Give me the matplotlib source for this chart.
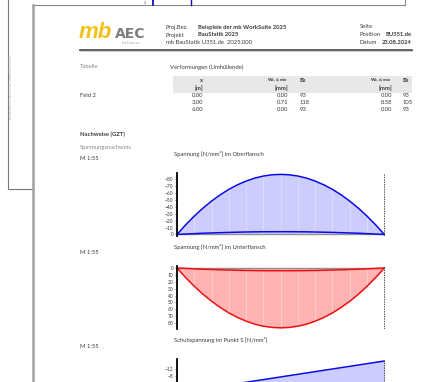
import numpy as np
import matplotlib
matplotlib.use('Agg')
import matplotlib.pyplot as plt

plt.rcParams['font.family'] = ['Lato', 'DejaVu Sans']
plt.rcParams['mathtext.fontset'] = 'custom'
plt.rcParams['mathtext.rm'] = 'Lato'
plt.rcParams['mathtext.it'] = 'Lato:italic'
plt.rcParams['mathtext.bf'] = 'Lato:bold'

# tabelle verformungen
tab_x = [0.00, 3.00, 6.00]
tab_wmin = [0.00, 0.71, 0.00]
tab_ek_min = [93, 118, 93]
tab_wmax = [0.00, 8.58, 0.00]
tab_ek_max = [93, 105, 93]

# stationen [m]
stat = [0.0, 0.25, 0.5, 0.75, 1.0, 1.25, 1.5, 1.75, 2.0, 2.25, 2.5, 2.75, 3.0,
        3.25, 3.5, 3.75, 4.0, 4.25, 4.5, 4.75, 5.0, 5.25, 5.5, 5.75, 6.0]
# Spannung im Oberflansch [N/mm2]
ober_a = [0, -13.9, -26.6, -38.1, -48.3, -57.4, -65.3, -71.9, -77.3, -81.6, -84.6, -86.4, -87.0,
          -86.4, -84.6, -81.6, -77.3, -71.9, -65.3, -57.4, -48.3, -38.1, -26.6, -13.9, 0]
ober_b = [0, -0.6, -1.2, -1.8, -2.2, -2.6, -3.0, -3.3, -3.6, -3.8, -3.9, -4.0, -4.0,
          -4.0, -3.9, -3.8, -3.6, -3.3, -3.0, -2.6, -2.2, -1.8, -1.2, -0.6, 0]
# Spannung im Unterflansch [N/mm2]
unter_a = [0, 13.9, 26.6, 38.1, 48.3, 57.4, 65.3, 71.9, 77.3, 81.6, 84.6, 86.4, 87.0,
           86.4, 84.6, 81.6, 77.3, 71.9, 65.3, 57.4, 48.3, 38.1, 26.6, 13.9, 0]
unter_b = [0, 0.6, 1.2, 1.8, 2.2, 2.6, 3.0, 3.3, 3.6, 3.8, 3.9, 4.0, 4.0,
           4.0, 3.9, 3.8, 3.6, 3.3, 3.0, 2.6, 2.2, 1.8, 1.2, 0.6, 0]
# Schubspannung im Punkt S [N/mm2]
schub_x = [0.0, 6.0]
schub = [1.2, -16.2]

W, H = 428, 382
fig = plt.figure(figsize=(W / 100, H / 100), dpi=100)
page = fig.add_axes([0, 0, 1, 1])
page.set_xlim(0, W)
page.set_ylim(H, 0)
page.axis('off')

def px_axes(x0, y0, x1, y1):
    return fig.add_axes([x0 / W, 1 - y1 / H, (x1 - x0) / W, (y1 - y0) / H])

dark = '#3a3a3a'
grau = '#8a8a8a'
fs = 4.2

# seiten-rahmen
page.plot([8, 8, 33], [0, 189, 189], color='#777777', lw=0.8)
page.plot([33, 405], [5, 5], color='#888888', lw=0.8)
page.plot([405, 405], [0, 5], color='#888888', lw=0.8)
page.plot([33, 33], [5, H], color='#a0a0a0', lw=1.8)
page.plot([153, 153], [0, 5], color='#1010c0', lw=1.3)
page.plot([191, 191], [0, 5], color='#1010c0', lw=1.0)
page.text(145, 2.5, '3', fontsize=2.5, color=dark, ha='center', va='center')
page.text(11, 87, 'mb BauStatik U351.de 2025.000 - Lizenz 000000-00000', fontsize=1.8,
          color='#aaaaaa', rotation=90, ha='center', va='center')

# logo
page.text(79, 38.5, 'mb', fontsize=16, fontweight='bold', fontstyle='italic', color='#f2c21b',
          family='Liberation Sans', ha='left', va='baseline')
page.text(114.5, 38.5, 'AEC', fontsize=10, fontweight='bold', color='#7d7d7d',
          family='DejaVu Sans', ha='left', va='baseline')
page.text(131, 43, 'S o f t w a r e', fontsize=2.2, color='#888888', ha='center', va='center')

# kopf
page.text(166, 27, 'Proj.Bez.', fontsize=fs, color=dark, va='center')
page.text(198, 27, 'Beispiele der mb WorkSuite 2025', fontsize=fs, color=dark,
          fontweight='bold', va='center')
page.text(166, 35, 'Projekt', fontsize=fs, color=dark, va='center')
page.text(198, 35, 'BauStatik 2025', fontsize=fs, color=dark, fontweight='bold', va='center')
page.text(166, 43, 'mb BauStatik U351.de  2025.000', fontsize=fs, color=dark, va='center')
page.text(360, 27, 'Seite', fontsize=fs, color=dark, va='center')
page.text(360, 35, 'Position', fontsize=fs, color=dark, va='center')
page.text(412, 35, 'BU351.de', fontsize=fs, color=dark, fontweight='bold', va='center', ha='right')
page.text(360, 43, 'Datum', fontsize=fs, color=dark, va='center')
page.text(412, 43, '23.08.2024', fontsize=fs, color=dark, fontweight='bold', va='center', ha='right')
page.plot([80, 412], [50, 50], color='#555555', lw=1.3)
page.plot([80, 412], [51.3, 51.3], color='#bbbbbb', lw=0.5)

# tabelle
page.text(80, 67, 'Tabelle', fontsize=fs, color=grau, va='center')
page.text(170, 67, 'Verformungen (Umhüllende)', fontsize=fs, color=dark, va='center')
page.fill_between([173, 412], 76, 92.5, color='#e8e8e8', lw=0)
page.text(203, 80.5, 'x', fontsize=fs, color=dark, ha='right', va='center', fontweight='bold')
page.text(203, 88, '[m]', fontsize=fs, color=dark, ha='right', va='center', fontweight='bold')
page.text(288, 80.5, r'w$_{\mathregular{c,d,min}}$', fontsize=fs, color=dark, ha='right',
          va='center', fontweight='bold')
page.text(288, 88, '[mm]', fontsize=fs, color=dark, ha='right', va='center', fontweight='bold')
page.text(300, 80, 'Ek', fontsize=fs, color=dark, ha='left', va='center', fontweight='bold')
page.text(392, 80.5, r'w$_{\mathregular{c,d,max}}$', fontsize=fs, color=dark, ha='right',
          va='center', fontweight='bold')
page.text(392, 88, '[mm]', fontsize=fs, color=dark, ha='right', va='center', fontweight='bold')
page.text(403, 80, 'Ek', fontsize=fs, color=dark, ha='left', va='center', fontweight='bold')
page.text(80, 95.5, 'Feld 2', fontsize=fs, color=dark, va='center')
for i in range(len(tab_x)):
    yy = 95.5 + 7 * i
    page.text(203, yy, '%.2f' % tab_x[i], fontsize=fs, color=dark, ha='right', va='center')
    page.text(288, yy, '%.2f' % tab_wmin[i], fontsize=fs, color=dark, ha='right', va='center')
    page.text(300, yy, '%d' % tab_ek_min[i], fontsize=fs, color=dark, ha='left', va='center')
    page.text(392, yy, '%.2f' % tab_wmax[i], fontsize=fs, color=dark, ha='right', va='center')
    page.text(403, yy, '%d' % tab_ek_max[i], fontsize=fs, color=dark, ha='left', va='center')

# nachweise
page.text(80, 134, 'Nachweise (GZT)', fontsize=fs, color=dark, fontweight='bold', va='center')
page.text(80, 148, 'Spannungsnachweis', fontsize=fs, color=grau, va='center')
page.text(80, 159, 'M 1:55', fontsize=fs, color=dark, va='center')
page.text(174, 154, 'Spannung [N/mm²] im Oberflansch', fontsize=fs, color=dark, va='center')
page.text(80, 253, 'M 1:55', fontsize=fs, color=dark, va='center')
page.text(174, 247, 'Spannung [N/mm²] im Unterflansch', fontsize=fs, color=dark, va='center')
page.text(80, 346, 'M 1:55', fontsize=fs, color=dark, va='center')
page.text(174, 340, 'Schubspannung im Punkt S [N/mm²]', fontsize=fs, color=dark, va='center')


def diagramm(ax, xs, a, b, fill, line, ylim, ticks):
    xs = np.array(xs)
    a = np.array(a)
    ax.fill_between(xs, 0, a, color=fill, lw=0)
    ax.vlines(xs[2:-1:2], 0, a[2:-1:2], color='white', lw=0.5, alpha=0.45)
    ax.axhline(0, color='#909090', lw=1.0)
    ax.plot(xs, a, color=line, lw=1.1, solid_capstyle='round')
    if b is not None:
        ax.plot(xs, b, color=line, lw=1.1, solid_capstyle='round')
    ax.axvline(6, color='#555555', lw=0.7, ls=(0, (1.5, 1)))
    ax.set_xlim(0, 6.02)
    ax.set_ylim(*ylim)
    ax.set_yticks(ticks)
    ax.set_xticks([])
    for s in ['top', 'right', 'bottom']:
        ax.spines[s].set_visible(False)
    ax.spines['left'].set_linewidth(1.3)
    ax.tick_params(axis='y', labelsize=3.5, length=1.5, width=0.5, pad=1, colors=dark)
    ax.patch.set_alpha(0)


ax1 = px_axes(177, 173, 385, 236)
diagramm(ax1, stat, ober_a, ober_b, '#ccccff', '#0a0ae6', (2.2, -89), list(range(0, -81, -10)))

ax2 = px_axes(177, 266, 385, 329)
diagramm(ax2, stat, unter_a, unter_b, '#ffb3b3', '#f01010', (88.7, -2.9), list(range(0, 81, 10)))

ax3 = px_axes(177, 359, 385, 400)
diagramm(ax3, schub_x, schub, None, '#ccccff', '#0a0ae6', (5.1, -17.3), [-12, -8])

fig.savefig('out.png', dpi=100)
